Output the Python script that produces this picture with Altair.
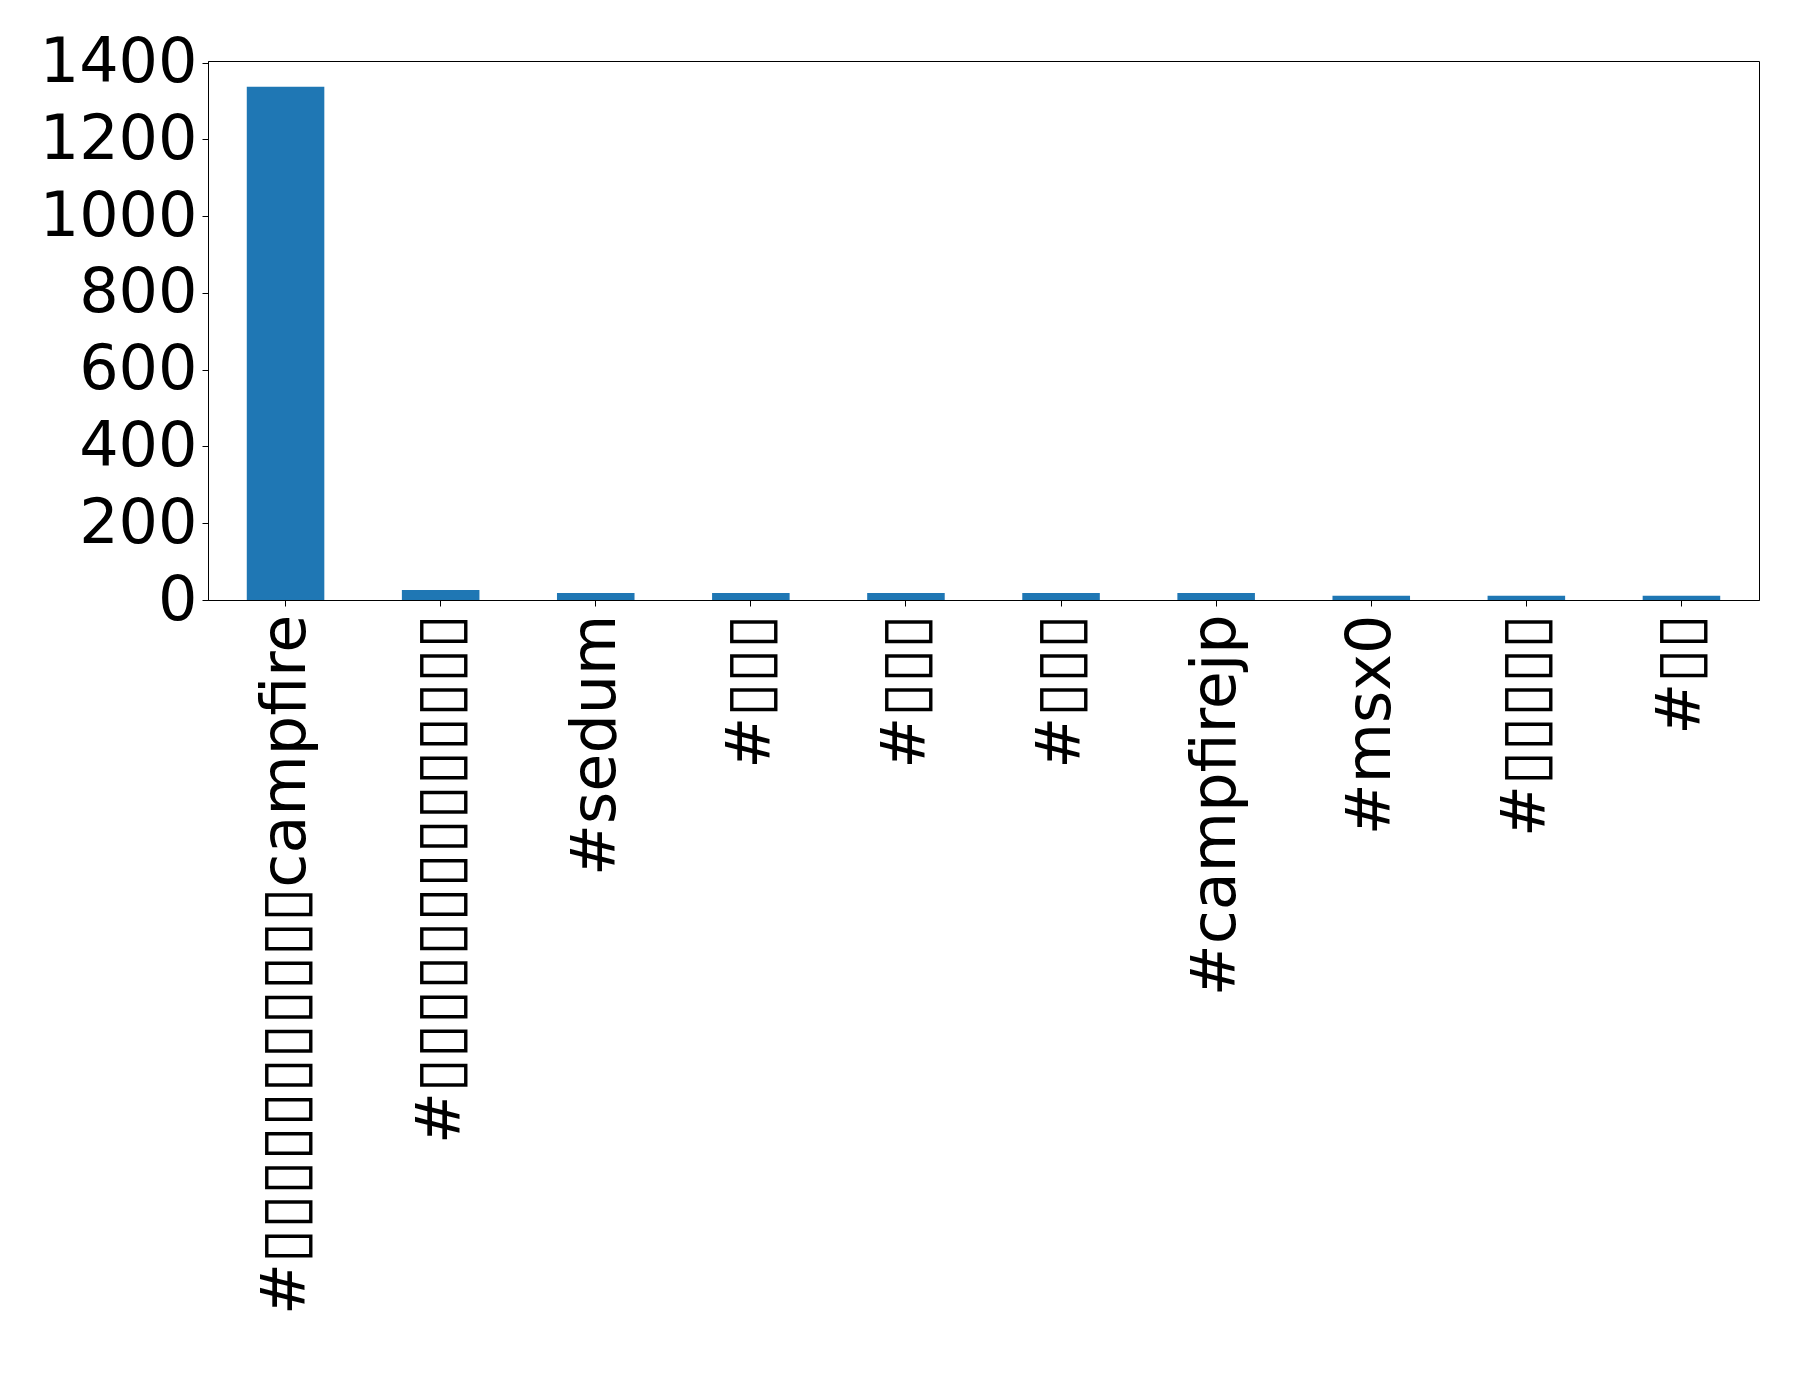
import altair as alt
import pandas as pd

# Tick labels as rendered in the reference (CJK glyphs shown as missing-glyph boxes)
categories = [
    "#" + "\u25af" * 11 + "campfire",
    "#" + "\u25af" * 14,
    "#sedum",
    "#" + "\u25af" * 3,
    "#" + "\u25af" * 3,
    "#" + "\u25af" * 3,
    "#campfirejp",
    "#msx0",
    "#" + "\u25af" * 5,
    "#" + "\u25af" * 2,
]
counts = [1337, 26, 18, 18, 18, 18, 18, 11, 11, 11]
y_ticks = [0, 200, 400, 600, 800, 1000, 1200, 1400]

df = pd.DataFrame({"idx": list(range(len(categories))), "tag": categories, "count": counts})

label_expr = "[" + ",".join('"' + c + '"' for c in categories) + "][datum.value]"

chart = (
    alt.Chart(df)
    .mark_bar(color="#1f77b4")
    .encode(
        x=alt.X(
            "idx:O",
            title=None,
            scale=alt.Scale(paddingInner=0.5, paddingOuter=0.25),
            axis=alt.Axis(
                labelExpr=label_expr,
                labelAngle=-90,
                labelFont="DejaVu Sans",
                labelFontSize=62,
                labelColor="black",
                labelPadding=8,
                labelLimit=0,
                tickSize=6,
                tickColor="black",
                domainColor="black",
                labelOverlap=False,
            ),
        ),
        y=alt.Y(
            "count:Q",
            title=None,
            scale=alt.Scale(domain=[0, 1404], nice=False),
            axis=alt.Axis(
                values=y_ticks,
                format="d",
                grid=False,
                labelFont="DejaVu Sans",
                labelFontSize=62,
                labelColor="black",
                labelPadding=5,
                tickSize=6,
                tickColor="black",
                domainColor="black",
                labelOverlap=False,
            ),
        ),
        tooltip=["tag:N", "count:Q"],
    )
    .properties(
        width=1551,
        height=539,
        autosize=alt.AutoSizeParams(type="none"),
        padding={"left": 200, "top": 53, "right": 31, "bottom": 780},
        background="white",
    )
    .configure_view(stroke="black", strokeWidth=1)
)

chart.save("out.html", embed_options={"renderer": "svg", "actions": False})
